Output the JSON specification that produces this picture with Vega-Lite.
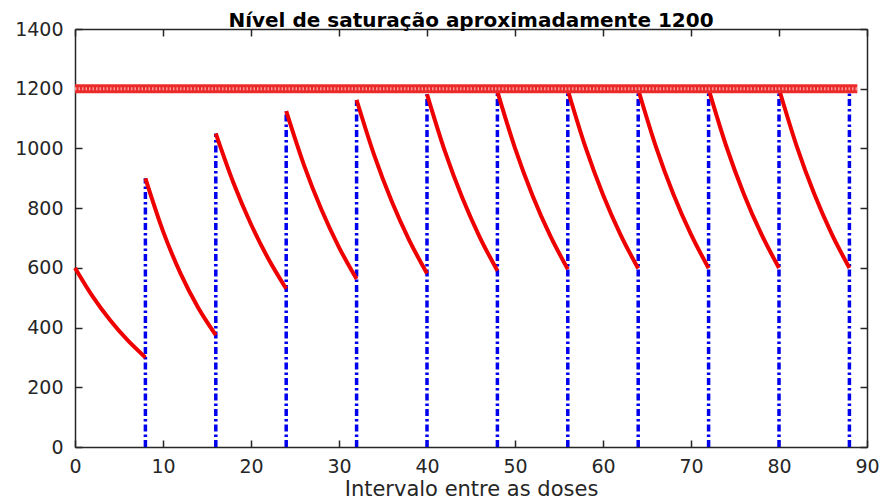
{
  "$schema": "https://vega.github.io/schema/vega-lite/v6.json",
  "width": 792,
  "height": 418,
  "autosize": {"type": "none"},
  "padding": {"left": 75, "top": 29, "right": 17, "bottom": 53},
  "background": "white",
  "title": {
    "text": "Nível de saturação aproximadamente 1200",
    "font": "DejaVu Sans",
    "fontSize": 20,
    "fontWeight": "bold",
    "color": "#000000",
    "anchor": "middle",
    "offset": -11
  },
  "config": {
    "view": {"stroke": null},
    "axis": {
      "grid": false,
      "labelFont": "DejaVu Sans",
      "labelFontSize": 19,
      "labelColor": "#262626",
      "labelFlush": false,
      "titleFont": "DejaVu Sans",
      "titleFontSize": 21,
      "titleFontWeight": "normal",
      "titleColor": "#262626",
      "domainColor": "#262626",
      "domainWidth": 1.5,
      "tickColor": "#262626",
      "tickWidth": 1.5
    }
  },
  "datasets": {
    "curves": [
      {"seg": 1, "t": 0, "c": 600}, {"seg": 1, "t": 2, "c": 504.5}, {"seg": 1, "t": 4, "c": 424.3}, {"seg": 1, "t": 6, "c": 356.8}, {"seg": 1, "t": 8, "c": 300},
      {"seg": 2, "t": 8, "c": 900}, {"seg": 2, "t": 10, "c": 723.1}, {"seg": 2, "t": 12, "c": 580.9}, {"seg": 2, "t": 14, "c": 466.7}, {"seg": 2, "t": 16, "c": 375},
      {"seg": 3, "t": 16, "c": 1050}, {"seg": 3, "t": 18, "c": 885.1}, {"seg": 3, "t": 20, "c": 746.0}, {"seg": 3, "t": 22, "c": 628.8}, {"seg": 3, "t": 24, "c": 530},
      {"seg": 4, "t": 24, "c": 1125}, {"seg": 4, "t": 26, "c": 946.0}, {"seg": 4, "t": 28, "c": 795.5}, {"seg": 4, "t": 30, "c": 668.9}, {"seg": 4, "t": 32, "c": 562.5},
      {"seg": 5, "t": 32, "c": 1162.5}, {"seg": 5, "t": 34, "c": 977.5}, {"seg": 5, "t": 36, "c": 822.0}, {"seg": 5, "t": 38, "c": 691.2}, {"seg": 5, "t": 40, "c": 581.3},
      {"seg": 6, "t": 40, "c": 1181.3}, {"seg": 6, "t": 42, "c": 993.3}, {"seg": 6, "t": 44, "c": 835.3}, {"seg": 6, "t": 46, "c": 702.4}, {"seg": 6, "t": 48, "c": 590.6},
      {"seg": 7, "t": 48, "c": 1190.6}, {"seg": 7, "t": 50, "c": 1001.2}, {"seg": 7, "t": 52, "c": 841.9}, {"seg": 7, "t": 54, "c": 708.0}, {"seg": 7, "t": 56, "c": 595.3},
      {"seg": 8, "t": 56, "c": 1195.3}, {"seg": 8, "t": 58, "c": 1005.1}, {"seg": 8, "t": 60, "c": 845.2}, {"seg": 8, "t": 62, "c": 710.7}, {"seg": 8, "t": 64, "c": 597.7},
      {"seg": 9, "t": 64, "c": 1197.7}, {"seg": 9, "t": 66, "c": 1007.1}, {"seg": 9, "t": 68, "c": 846.9}, {"seg": 9, "t": 70, "c": 712.2}, {"seg": 9, "t": 72, "c": 598.8},
      {"seg": 10, "t": 72, "c": 1198.8}, {"seg": 10, "t": 74, "c": 1008.1}, {"seg": 10, "t": 76, "c": 847.7}, {"seg": 10, "t": 78, "c": 712.8}, {"seg": 10, "t": 80, "c": 599.4},
      {"seg": 11, "t": 80, "c": 1199.4}, {"seg": 11, "t": 82, "c": 1008.6}, {"seg": 11, "t": 84, "c": 848.1}, {"seg": 11, "t": 86, "c": 713.2}, {"seg": 11, "t": 88, "c": 599.7}
    ],
    "doses": [
      {"t": 8, "low": 0, "peak": 900},
      {"t": 16, "low": 0, "peak": 1050},
      {"t": 24, "low": 0, "peak": 1125},
      {"t": 32, "low": 0, "peak": 1162.5},
      {"t": 40, "low": 0, "peak": 1181.3},
      {"t": 48, "low": 0, "peak": 1190.6},
      {"t": 56, "low": 0, "peak": 1195.3},
      {"t": 64, "low": 0, "peak": 1197.7},
      {"t": 72, "low": 0, "peak": 1198.8},
      {"t": 80, "low": 0, "peak": 1199.4},
      {"t": 88, "low": 0, "peak": 1199.7}
    ],
    "saturation": [
      {"start": 0, "end": 88.9, "level": 1200}
    ]
  },
  "layer": [
    {
      "data": {"name": "doses"},
      "mark": {"type": "rule", "color": "#0000ee", "strokeWidth": 3.5, "strokeDash": [7, 3, 2.5, 3]},
      "encoding": {
        "x": {
          "field": "t", "type": "quantitative",
          "scale": {"domain": [0, 90], "nice": false, "zero": false},
          "axis": {
            "orient": "bottom",
            "values": [0, 10, 20, 30, 40, 50, 60, 70, 80, 90],
            "tickSize": -7,
            "labelPadding": 17,
            "title": "Intervalo entre as doses",
            "titlePadding": 2
          }
        },
        "y": {
          "field": "low", "type": "quantitative",
          "scale": {"domain": [0, 1400], "nice": false},
          "axis": {
            "orient": "left",
            "values": [0, 200, 400, 600, 800, 1000, 1200, 1400],
            "format": "d",
            "tickSize": -7,
            "labelPadding": 19,
            "title": null
          }
        },
        "y2": {"field": "peak"}
      }
    },
    {
      "data": {"name": "curves"},
      "mark": {"type": "line", "color": "#ee0000", "strokeWidth": 4, "interpolate": "monotone"},
      "encoding": {
        "x": {
          "field": "t", "type": "quantitative",
          "axis": {"orient": "top", "values": [0, 10, 20, 30, 40, 50, 60, 70, 80, 90], "labels": false, "tickSize": -7, "title": null}
        },
        "y": {
          "field": "c", "type": "quantitative",
          "axis": {"orient": "right", "values": [0, 200, 400, 600, 800, 1000, 1200, 1400], "labels": false, "tickSize": -7, "title": null}
        },
        "detail": {"field": "seg"}
      }
    },
    {
      "data": {"name": "saturation"},
      "mark": {"type": "rule", "color": "#ec2a2a", "strokeWidth": 9},
      "encoding": {
        "x": {"field": "start", "type": "quantitative", "axis": null},
        "x2": {"field": "end"},
        "y": {"field": "level", "type": "quantitative", "axis": null}
      }
    },
    {
      "data": {"name": "saturation"},
      "mark": {"type": "rule", "color": "#f59a9a", "strokeWidth": 3, "strokeDash": [1.5, 2]},
      "encoding": {
        "x": {"field": "start", "type": "quantitative", "axis": null},
        "x2": {"field": "end"},
        "y": {"field": "level", "type": "quantitative", "axis": null}
      }
    }
  ],
  "resolve": {"axis": {"x": "independent", "y": "independent"}}
}
